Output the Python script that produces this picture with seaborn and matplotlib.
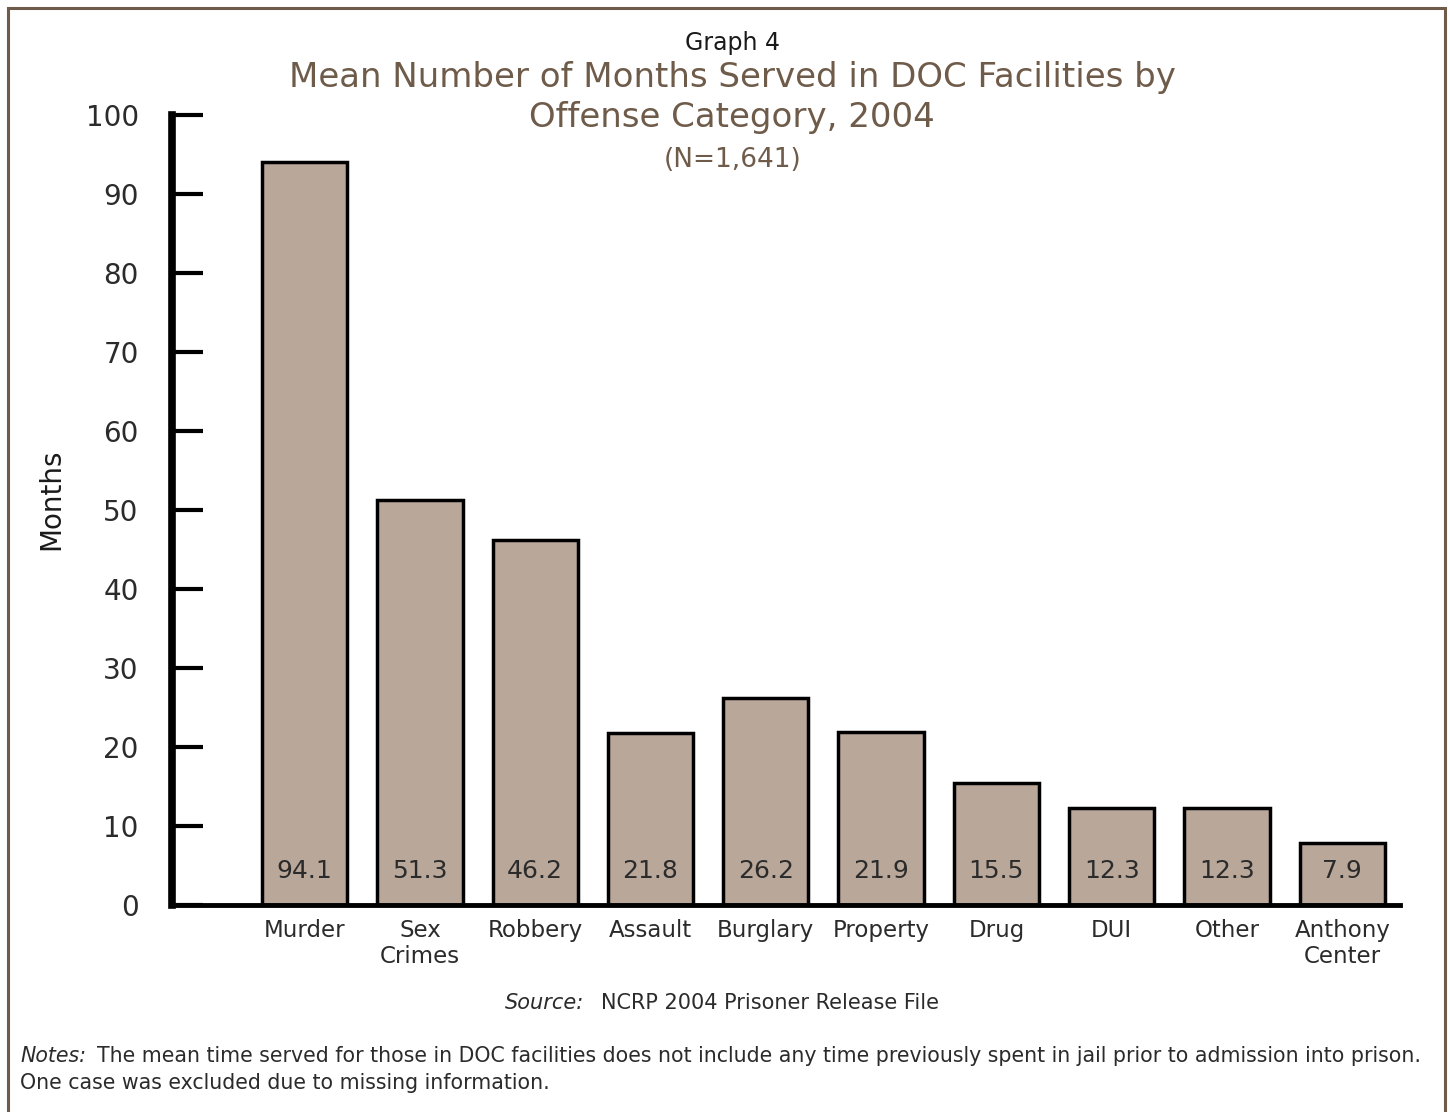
import matplotlib
matplotlib.use("Agg")
import matplotlib.pyplot as plt
import seaborn as sns
import pandas as pd
from matplotlib.patches import Rectangle

# Mean months served by offense category (2004 release cohort)
categories = ["Murder", "Sex\nCrimes", "Robbery", "Assault", "Burglary",
              "Property", "Drug", "DUI", "Other", "Anthony\nCenter"]
months = [94.1, 51.3, 46.2, 21.8, 26.2, 21.9, 15.5, 12.3, 12.3, 7.9]
y_ticks = [0, 10, 20, 30, 40, 50, 60, 70, 80, 90, 100]

BROWN = "#6f5b49"
BAR = "#b9a799"
TEXT = "#2b2b2b"

sns.set_theme(style="white")
plt.rcParams["font.family"] = ["DejaVu Sans"]

df = pd.DataFrame({"category": categories, "months": months})

fig = plt.figure(figsize=(14.5, 11.12), dpi=100)
ax = fig.add_axes([172 / 1450, 1 - 905 / 1112, (1400 - 172) / 1450, (905 - 115) / 1112])

sns.barplot(data=df, x="category", y="months", color=BAR, saturation=1,
            edgecolor="black", linewidth=2.5, width=0.74, ax=ax)

ax.set_xlim(-1.15, 9.5)
ax.set_ylim(0, 100)
ax.set_yticks(y_ticks)
ax.set_yticklabels([str(t) for t in y_ticks], fontsize=20, color=TEXT)
ax.tick_params(axis="y", direction="in", length=22, width=3, color="black", pad=24, left=True)
ax.tick_params(axis="x", length=0, pad=10)
for lab in ax.get_xticklabels():
    lab.set_fontsize(16.5)
    lab.set_color(TEXT)
    lab.set_linespacing(1.2)

for side in ("top", "right"):
    ax.spines[side].set_visible(False)
ax.spines["left"].set_linewidth(5.5)
ax.spines["left"].set_color("black")
ax.spines["bottom"].set_linewidth(3.5)
ax.spines["bottom"].set_color("black")

ax.set_xlabel("")
ax.set_ylabel("Months", fontsize=20, color="#1a1a1a")
ax.yaxis.set_label_coords(-0.087, 0.514)

# value labels near the base of each bar
for i, v in enumerate(months):
    ax.text(i, 4.3, f"{v:.1f}", ha="center", va="center", fontsize=18, color=TEXT)

# titles
cx = 0.505
fig.text(cx, 1 - 43 / 1112, "Graph 4", ha="center", va="center", fontsize=17, color="#1a1a1a")
fig.text(cx, 1 - 78 / 1112, "Mean Number of Months Served in DOC Facilities by",
         ha="center", va="center", fontsize=24.5, color=BROWN)
fig.text(cx, 1 - 118 / 1112, "Offense Category, 2004",
         ha="center", va="center", fontsize=24.5, color=BROWN)
fig.text(cx, 1 - 160 / 1112, "(N=1,641)", ha="center", va="center", fontsize=19, color=BROWN)

# source and notes
fig.text(584 / 1450, 1 - 1003 / 1112, "Source:", ha="right", va="center",
         fontsize=15, style="italic", color=TEXT)
fig.text(601 / 1450, 1 - 1003 / 1112, "NCRP 2004 Prisoner Release File", ha="left", va="center",
         fontsize=15, color=TEXT)
fig.text(20 / 1450, 1 - 1056 / 1112, "Notes:", ha="left", va="center",
         fontsize=14.8, style="italic", color=TEXT)
fig.text(97 / 1450, 1 - 1056 / 1112,
         "The mean time served for those in DOC facilities does not include any time previously spent in jail prior to admission into prison.",
         ha="left", va="center", fontsize=14.8, color=TEXT)
fig.text(20 / 1450, 1 - 1083 / 1112, "One case was excluded due to missing information.",
         ha="left", va="center", fontsize=14.8, color=TEXT)

# frame around the whole page
fig.patches.append(Rectangle((8 / 1450, -0.02), (1445 - 8) / 1450, 1.02 - 8 / 1112,
                             transform=fig.transFigure, fill=False,
                             edgecolor=BROWN, linewidth=2.2, zorder=10))

fig.savefig("out.png", dpi=100)
